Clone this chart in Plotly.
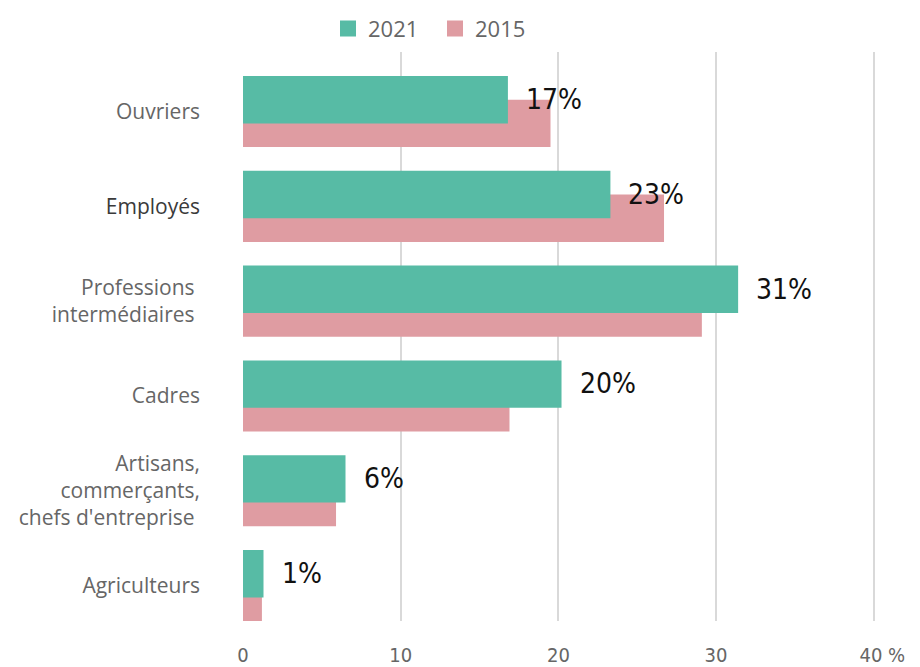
import plotly.graph_objects as go

categories = ["Ouvriers", "Employés", "Professions<br>intermédiaires", "Cadres",
              "Artisans,<br>commerçants,<br>chefs d'entreprise", "Agriculteurs"]
tick_labels = ["Ouvriers", "<span style='color:#3a3a3a'>Employés</span>",
               "Professions <br>intermédiaires ", "Cadres",
               "Artisans,<br>commerçants,<br>chefs d'entreprise ", "Agriculteurs"]
values_2021 = [16.8, 23.3, 31.4, 20.2, 6.5, 1.3]
values_2015 = [19.5, 26.7, 29.1, 16.9, 5.9, 1.2]
labels_2021 = ["17%", "23%", "31%", "20%", "6%", "1%"]
x_ticks = [0, 10, 20, 30, 40]
x_tick_text = ["0", "10", "20", "30", "\u00a0\u00a0\u00a040 %"]

TEAL = "#57BBA5"
PINK = "#DF9CA2"

fig = go.Figure()
fig.add_trace(go.Bar(y=categories, x=values_2015, orientation="h", name="2015",
                     marker=dict(color=PINK, line=dict(width=0)),
                     width=0.5, offset=-0.125, showlegend=False))
fig.add_trace(go.Bar(y=categories, x=values_2021, orientation="h", name="2021",
                     marker=dict(color=TEAL, line=dict(width=0)),
                     width=0.5, offset=-0.375, showlegend=False))
# legend entries
fig.add_trace(go.Scatter(x=[None], y=[None], mode="markers", name="2021",
                         marker=dict(symbol="square", size=18, color=TEAL)))
fig.add_trace(go.Scatter(x=[None], y=[None], mode="markers", name="2015",
                         marker=dict(symbol="square", size=18, color=PINK)))

for c, v, t in zip(categories, values_2021, labels_2021):
    fig.add_annotation(x=v, y=c, text=t, showarrow=False, xanchor="left",
                       xshift=16, yshift=12,
                       font=dict(family="Liberation Sans Narrow, DejaVu Sans Condensed, Liberation Sans, sans-serif",
                                 size=28, color="#111111"))

fig.update_layout(
    width=912, height=659,
    margin=dict(l=235, r=45, t=44, b=46, autoexpand=False),
    paper_bgcolor="white", plot_bgcolor="white",
    barmode="overlay",
    font=dict(family="Open Sans, sans-serif", color="#666666"),
    legend=dict(orientation="h", x=0.1345, y=1.041, xanchor="left", yanchor="middle",
                font=dict(size=22, color="#666666"), itemclick=False,
                entrywidth=62, entrywidthmode="pixels",
                traceorder="normal"),
    showlegend=True,
)
fig.update_xaxes(range=[0, 40.08], tickvals=x_ticks, ticktext=x_tick_text,
                 showgrid=True, gridcolor="#d9d9d9", gridwidth=2,
                 zeroline=False, showline=False, ticks="", automargin=False,
                 ticklabelstandoff=20,
                 tickfont=dict(size=20, color="#666666", family="Liberation Sans Narrow, DejaVu Sans Condensed, sans-serif"))
fig.update_yaxes(type="category", categoryorder="array", categoryarray=categories,
                 tickvals=categories, ticktext=tick_labels, automargin=False,
                 range=[5.374, -0.628], showgrid=False, zeroline=False,
                 showline=False, ticks="", ticklabelstandoff=42,
                 tickfont=dict(size=21, color="#666666"))

fig.write_html("out.html")
